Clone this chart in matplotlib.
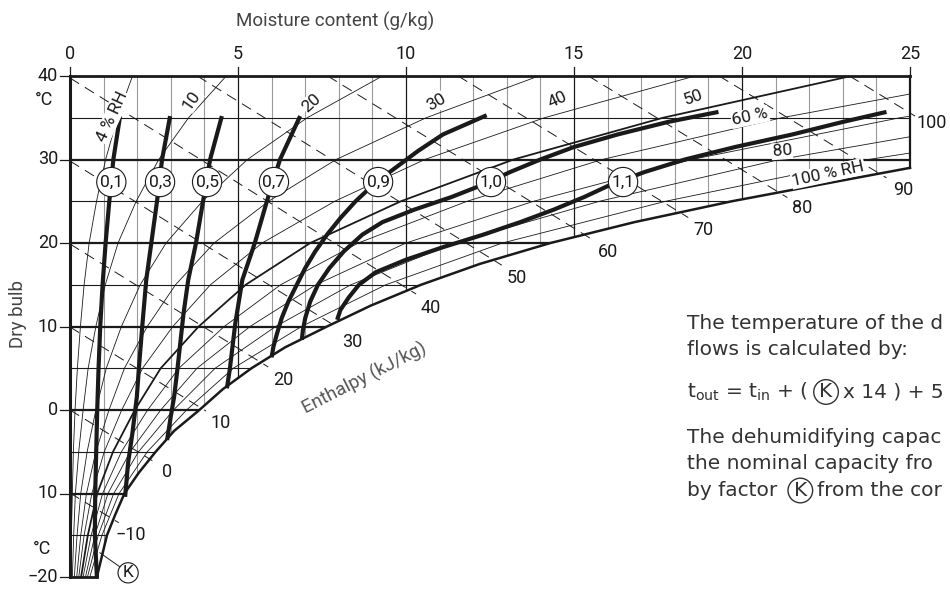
import matplotlib
matplotlib.use("Agg")
import matplotlib.pyplot as plt
from matplotlib.patches import Polygon

plt.rcParams['font.family'] = ['Roboto', 'DejaVu Sans']
plt.rcParams['mathtext.default'] = 'regular'

INK = '#1a1a1a'
TXT = '#333333'

# saturation curve (100 % RH): dry bulb degC -> moisture g/kg
sat_T = [-20, -17.5, -15, -12.5, -10, -7.5, -5, -2.5, 0, 2.5, 5, 7.5, 10,
         12.5, 15, 17.5, 20, 22.5, 25, 27.5, 29]
sat_x = [0.8, 0.95, 1.1, 1.35, 1.62, 2.05, 2.55, 3.1, 3.85, 4.55, 5.4, 6.4,
         7.65, 8.95, 10.45, 12.2, 14.3, 16.8, 19.7, 23.0, 25.0]

# relative humidity lines, moisture at each temperature of temp_grid
temp_grid = [-20, -15, -10, -5, 0, 5, 10, 15, 20, 25, 30, 35, 40]
rh04 = [0.03, 0.04, 0.07, 0.10, 0.15, 0.22, 0.31, 0.42, 0.57, 0.79, 1.06, 1.41, 1.86]
rh10 = [0.07, 0.11, 0.16, 0.26, 0.39, 0.54, 0.77, 1.05, 1.43, 1.97, 2.64, 3.53, 4.65]
rh20 = [0.13, 0.21, 0.32, 0.51, 0.77, 1.08, 1.53, 2.09, 2.86, 3.94, 5.28, 7.06, 9.3]
rh30 = [0.2, 0.32, 0.49, 0.77, 1.16, 1.62, 2.3, 3.14, 4.29, 5.91, 7.92, 10.6, 13.95]
rh40 = [0.26, 0.42, 0.65, 1.02, 1.54, 2.16, 3.06, 4.18, 5.72, 7.88, 10.56, 14.12, 18.6]
rh50 = [0.33, 0.53, 0.81, 1.28, 1.93, 2.7, 3.83, 5.23, 7.15, 9.85, 13.2, 17.65, 23.25]
rh60 = [0.39, 0.63, 0.97, 1.53, 2.31, 3.24, 4.59, 6.27, 8.58, 11.82, 15.84, 21.18, 27.9]
rh70 = [0.46, 0.74, 1.13, 1.79, 2.7, 3.78, 5.36, 7.32, 10.0, 13.8, 18.5, 24.7, 32.6]
rh80 = [0.52, 0.84, 1.3, 2.04, 3.08, 4.32, 6.12, 8.36, 11.44, 15.76, 21.12, 28.24, 37.2]
rh90 = [0.59, 0.95, 1.46, 2.3, 3.47, 4.86, 6.89, 9.4, 12.87, 17.73, 23.76, 31.77, 41.85]
rh_levels = [4, 10, 20, 30, 40, 50, 60, 70, 80, 90]
rh_curves = [rh04, rh10, rh20, rh30, rh40, rh50, rh60, rh70, rh80, rh90]

rh_labels = ['4 % RH', '10', '20', '30', '40', '50', '60 %', '80', '100 % RH']
rh_lab_x = [1.25, 3.63, 7.2, 10.9, 14.5, 18.55, 20.24, 21.19, 22.56]
rh_lab_T = [35.1, 37.1, 36.8, 36.8, 37.1, 37.4, 35.1, 31.0, 28.3]
rh_lab_rot = [65, 55, 42, 30, 25, 20, 12, 4, 12]

# enthalpy lines (kJ/kg): start and end points
h_vals = [-10, 0, 10, 20, 30, 40, 50, 60, 70, 80, 90, 100]
h_x0 = [0, 0, 0, 0, 0, 0, 3.79, 7.67, 11.55, 15.43, 19.32, 23.2]
h_T0 = [-9.94, 0, 9.94, 19.88, 29.82, 39.76, 40, 40, 40, 40, 40, 40]
h_x1 = [1.45, 2.45, 4.05, 5.9, 7.95, 10.3, 12.85, 15.55, 18.4, 21.35, 24.3, 25.15]
h_T1 = [-13.5, -6.07, -0.13, 5.15, 9.91, 13.89, 17.34, 20.4, 23.05, 25.44, 27.8, 35.2]
h_lab_x = [1.82, 2.89, 4.49, 6.34, 8.4, 10.74, 13.3, 16.0, 18.84, 21.8, 24.8, 25.65]
h_lab_T = [-15.0, -7.4, -1.5, 3.6, 8.1, 12.2, 15.8, 18.9, 21.6, 24.2, 26.3, 34.4]

# correction factor K lines
k01_x = [1.49, 1.29, 1.17, 1.06, 0.97, 0.9, 0.85, 0.81, 0.78, 0.75, 0.74, 0.8]
k01_T = [35.2, 30, 25, 20, 15, 10, 5, 0, -5, -10, -15, -20]
k03_x = [2.98, 2.74, 2.59, 2.42, 2.27, 2.15, 2.05, 1.99, 1.85, 1.73, 1.64]
k03_T = [35.2, 30, 25, 20, 15.6, 10, 5, 1.6, -3, -6.3, -10.4]
k05_x = [4.52, 4.17, 3.96, 3.75, 3.52, 3.38, 3.2, 3.1, 2.99, 2.89]
k05_T = [35.2, 30, 25, 20, 15.6, 11.6, 5, 1.6, -1, -3.6]
k07_x = [6.85, 6.25, 5.86, 5.5, 5.13, 4.92, 4.76, 4.67]
k07_T = [35.2, 30, 25, 20, 15.6, 10.4, 5, 2.6]
k09_x = [6.0, 6.05, 6.15, 6.3, 6.5, 6.75, 7.0, 7.3, 7.65, 8.05, 8.5, 8.9, 9.35,
         9.85, 10.35, 11.1, 12.4]
k09_T = [6.3, 7.5, 9, 11, 13, 15, 17, 19, 21, 23, 25, 26.5, 28, 29.5, 31, 33, 35.3]
k10_x = [6.9, 6.93, 7.0, 7.15, 7.38, 7.72, 8.15, 8.7, 9.3, 10.25, 11.35, 12.3,
         13.1, 14.0, 15.0, 16.3, 17.8, 19.3]
k10_T = [8.4, 9.5, 11, 13, 15, 17, 19, 21, 22.5, 24, 25.5, 27, 28.5, 30, 31.5,
         33, 34.5, 35.7]
k11_x = [7.95, 8.05, 8.3, 8.6, 9.1, 10.0, 11.1, 12.3, 13.4, 14.4, 15.3, 16.1,
         17.1, 18.3, 19.8, 21.5, 23.0, 24.3]
k11_T = [10.8, 12, 13.5, 15, 16.5, 18, 19.5, 21, 22.5, 24, 25.5, 27, 28.5, 30,
         31.5, 33, 34.5, 35.7]
k_lines = [(k01_x, k01_T), (k03_x, k03_T), (k05_x, k05_T), (k07_x, k07_T),
           (k09_x, k09_T), (k10_x, k10_T), (k11_x, k11_T)]
k_labels = ['0,1', '0,3', '0,5', '0,7', '0,9', '1,0', '1,1']
k_lab_x = [1.23, 2.68, 4.08, 6.07, 9.17, 12.53, 16.46]
k_lab_T = 27.3

x_ticks = [0, 5, 10, 15, 20, 25]
y_ticks = [40, 30, 20, 10, 0, -10, -20]
y_tick_text = ['40', '30', '20', '10', '0', '10', '\u221220']

fig = plt.figure(figsize=(9.5, 5.9), dpi=100)
ax = fig.add_axes([0, 0, 1, 1])
ax.set_xlim(-70 / 33.6, 880 / 33.6)
ax.set_ylim(-180 / 8.35, 410 / 8.35)
ax.axis('off')

# chart region used to clip the grid and RH lines
outline = [(0, -20), (0, 40), (25, 40)] + list(zip(sat_x[::-1], sat_T[::-1]))
clip = Polygon(outline, closed=True, transform=ax.transData)

for m in range(1, 25):
    major = m % 5 == 0
    ln, = ax.plot([m, m], [-20, 40], color=INK if major else '#9a9a9a',
                  lw=0.9 if major else 0.8, zorder=1)
    ln.set_clip_path(clip)
for t in range(-15, 40, 5):
    ln, = ax.plot([0, 25], [t, t], color=INK, lw=1.6 if t % 10 == 0 else 0.8, zorder=1)
    ln.set_clip_path(clip)

for lvl, xs in zip(rh_levels, rh_curves):
    ln, = ax.plot(xs, temp_grid, color=INK, lw=1.3 if lvl == 50 else 0.6, zorder=2)
    ln.set_clip_path(clip)

for i in range(len(h_vals)):
    ax.plot([h_x0[i], h_x1[i]], [h_T0[i], h_T1[i]], color=INK, lw=0.7,
            ls=(0, (11, 7)), zorder=2)
    lab = str(h_vals[i]).replace('-', '\u2212')
    ax.text(h_lab_x[i], h_lab_T[i], lab, ha='center', va='center', fontsize=13, color=INK)

# frame and saturation curve
ax.plot([0, 0], [-20, 40], color=INK, lw=2.2, zorder=3, solid_capstyle='projecting')
ax.plot([0, 25], [40, 40], color=INK, lw=2.0, zorder=3)
ax.plot([25, 25], [40, sat_T[-1]], color=INK, lw=1.6, zorder=3)
ax.plot([0, sat_x[0]], [-20, -20], color=INK, lw=2.0, zorder=3)
ax.plot(sat_x, sat_T, color=INK, lw=1.8, zorder=3)

for kx, kT in k_lines:
    ax.plot(kx, kT, color=INK, lw=3.0, zorder=4, solid_capstyle='butt')

for s, x in zip(k_labels, k_lab_x):
    ax.text(x, k_lab_T, s, ha='center', va='center', fontsize=12.5, color=INK, zorder=6,
            bbox=dict(boxstyle='circle,pad=0.18', fc='white', ec=INK, lw=0.8))

for s, x, t, r in zip(rh_labels, rh_lab_x, rh_lab_T, rh_lab_rot):
    ax.text(x, t, s, ha='center', va='center', rotation=r, fontsize=12.5, color=INK,
            zorder=5, bbox=dict(boxstyle='square,pad=0.05', fc='white', ec='none'))

# K marker at the bottom
ax.plot([0.89, 1.49], [-17.1, -18.8], color=INK, lw=0.7, zorder=5)
ax.text(1.73, -19.5, 'K', ha='center', va='center', fontsize=12.5, color=INK, zorder=6,
        bbox=dict(boxstyle='circle,pad=0.15', fc='white', ec=INK, lw=0.8))

# axes ticks and labels
for m in x_ticks:
    ax.plot([m, m], [40, 41.1], color=INK, lw=0.9)
    ax.text(m, 42.6, str(m), ha='center', va='center', fontsize=13, color=INK)
for t, s in zip(y_ticks, y_tick_text):
    ax.plot([-0.3, 0], [t, t], color=INK, lw=0.9)
    ax.text(-0.36, t, s, ha='right', va='center', fontsize=13, color=INK)
ax.text(-0.77, 37.1, '\u00b0C', ha='center', va='center', fontsize=13, color=INK)
ax.text(-0.83, -16.6, '\u00b0C', ha='center', va='center', fontsize=13, color=INK)
ax.text(-1.56, 11.5, 'Dry bulb', ha='center', va='center', rotation=90, fontsize=13.5, color='#444444')
ax.text(7.9, 46.5, 'Moisture content (g/kg)', ha='center', va='center', fontsize=13.5, color='#444444')
ax.text(8.78, 3.83, 'Enthalpy (kJ/kg)', ha='center', va='center', rotation=27,
        fontsize=13.5, color='#555555')

# explanation text on the right, cut where the source cuts it
renderer = fig.canvas.get_renderer()
inv = ax.transData.inverted()
PARA = dict(fontsize=14.5, color=TXT, family=['DejaVu Sans'])


def chain(x, y, pieces):
    cur = x
    for s, circled in pieces:
        t = ax.text(cur, y, s, ha='left', va='baseline', **PARA)
        if circled:
            t.set_bbox(dict(boxstyle='circle,pad=0.14', fc='none', ec=TXT, lw=1.0))
        bb = t.get_window_extent(renderer)
        cur = inv.transform((bb.x1, bb.y0))[0] + (0.3 if circled or s.endswith(' ') else 0)
    return cur


x_txt = (687 - 70) / 33.6
ax.text(x_txt, 10.4, 'The temperature of the d', ha='left', va='center', **PARA)
ax.text(x_txt, 7.3, 'flows is calculated by:', ha='left', va='center', **PARA)
chain(x_txt, 1.5, [(r't$_{out}$ = t$_{in}$ + ( ', False), ('K', True), ('x 14 ) + 5', False)])
ax.text(x_txt, -3.35, 'The dehumidifying capac', ha='left', va='center', **PARA)
ax.text(x_txt, -6.35, 'the nominal capacity fro', ha='left', va='center', **PARA)
chain(x_txt, -10.3, [('by factor ', False), ('K', True), ('from the cor', False)])

fig.savefig('out.png', dpi=100)
